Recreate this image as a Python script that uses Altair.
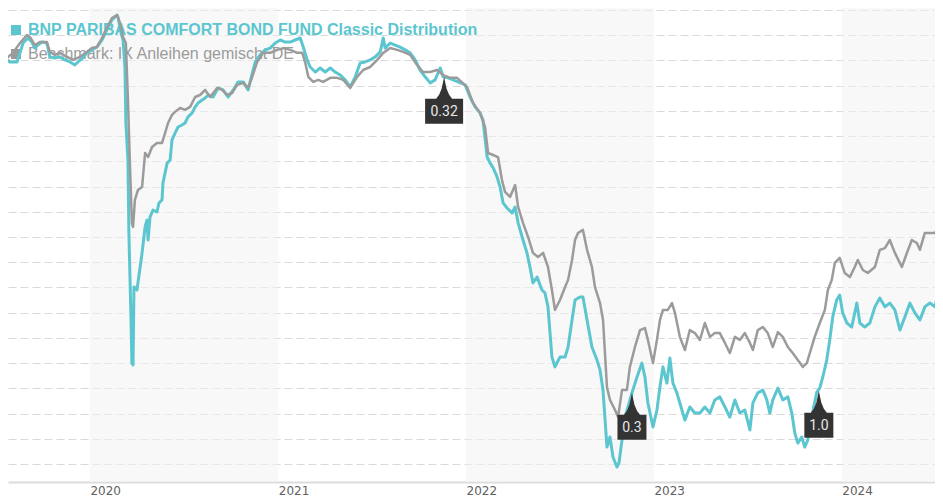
import altair as alt
import numpy as np
import pandas as pd

TEAL = "#5bc6cf"
GRAY = "#9b9b9b"

fund_name = "BNP PARIBAS COMFORT BOND FUND Classic Distribution"
bench_name = "Benchmark: IX Anleihen gemischt DE"

# decimal years / indexed values
fund_t = [2019.559, 2019.574, 2019.612, 2019.628, 2019.644, 2019.670, 2019.691, 2019.707, 2019.723, 2019.745,
          2019.771, 2019.787, 2019.814, 2019.840, 2019.867, 2019.894, 2019.920, 2019.936, 2019.963, 2019.984,
          2020.011, 2020.037, 2020.064, 2020.090, 2020.117, 2020.144, 2020.149, 2020.165, 2020.176, 2020.186,
          2020.191, 2020.202, 2020.207, 2020.218, 2020.223, 2020.229, 2020.234, 2020.250, 2020.255, 2020.277,
          2020.293, 2020.303, 2020.309, 2020.319, 2020.335, 2020.356, 2020.367, 2020.383, 2020.388, 2020.410,
          2020.426, 2020.436, 2020.452, 2020.468, 2020.489, 2020.505, 2020.521, 2020.543, 2020.559, 2020.574,
          2020.596, 2020.612, 2020.628, 2020.654, 2020.681, 2020.707, 2020.734, 2020.761, 2020.787,
          2020.814, 2020.840, 2020.862, 2020.878, 2020.904, 2020.931, 2020.957, 2020.984, 2021.011, 2021.037,
          2021.064, 2021.090, 2021.117, 2021.133, 2021.154, 2021.170, 2021.197, 2021.223, 2021.250, 2021.277,
          2021.303, 2021.330, 2021.356, 2021.383, 2021.410, 2021.436, 2021.463, 2021.489, 2021.516, 2021.543,
          2021.559, 2021.569, 2021.596, 2021.622, 2021.649, 2021.676, 2021.702, 2021.729, 2021.755, 2021.782,
          2021.809, 2021.835, 2021.862, 2021.878, 2021.904, 2021.931, 2021.957,
          2021.995, 2022.021, 2022.048, 2022.074, 2022.090, 2022.112, 2022.128, 2022.144, 2022.165, 2022.181,
          2022.197, 2022.218, 2022.245, 2022.261, 2022.277, 2022.303, 2022.324, 2022.340, 2022.356, 2022.378,
          2022.404, 2022.420, 2022.436, 2022.457, 2022.473, 2022.500, 2022.527, 2022.543, 2022.564, 2022.580,
          2022.606, 2022.622, 2022.644, 2022.670, 2022.697, 2022.713, 2022.729, 2022.750, 2022.766, 2022.782,
          2022.803, 2022.814, 2022.830, 2022.846, 2022.862, 2022.883, 2022.910, 2022.936, 2022.952, 2022.968,
          2022.995, 2023.016, 2023.032, 2023.048, 2023.069, 2023.085, 2023.101, 2023.122, 2023.138, 2023.165,
          2023.191, 2023.218,
          2023.245, 2023.271, 2023.298, 2023.324, 2023.351, 2023.378, 2023.404, 2023.431, 2023.457, 2023.484,
          2023.511, 2023.527, 2023.553, 2023.580, 2023.601, 2023.617, 2023.633, 2023.660, 2023.686, 2023.713,
          2023.734, 2023.750, 2023.766, 2023.787, 2023.803, 2023.819, 2023.840, 2023.867, 2023.883, 2023.899,
          2023.920, 2023.936, 2023.952, 2023.973, 2023.989, 2024.005, 2024.027, 2024.053, 2024.080, 2024.096,
          2024.122, 2024.149, 2024.176, 2024.202, 2024.229, 2024.255, 2024.282, 2024.309, 2024.335, 2024.362,
          2024.388, 2024.415, 2024.441, 2024.468, 2024.495, 2024.511, 2024.537]
fund_v = [104.02, 103.94, 103.94, 104.30, 104.69, 104.89, 104.73, 104.49, 104.61, 104.73,
          104.69, 104.14, 104.10, 104.14, 104.02, 103.94, 103.82, 103.94, 104.10, 104.30,
          104.42, 104.53, 104.81, 105.21, 105.61, 105.80, 105.72, 105.09, 104.81, 103.74,
          101.52, 100.05, 97.16, 93.83, 92.00, 91.93, 95.02, 94.90, 95.18, 96.37,
          97.40, 97.67, 96.88, 97.79, 98.07, 97.99, 98.35, 98.47, 99.14, 99.93,
          100.05, 100.85, 101.12, 101.36, 101.44, 101.52, 101.76, 101.92, 102.16, 102.31,
          102.43, 102.51, 102.63, 102.55, 102.91, 102.83, 102.55, 102.83, 103.15,
          103.15, 102.83, 103.50, 103.94, 104.22, 104.42, 104.49, 104.69, 104.81, 104.73,
          104.73, 104.81, 104.89, 104.53, 104.02, 103.74, 103.54, 103.70, 103.54, 103.70,
          103.54, 103.42, 103.23, 102.95, 103.35, 103.90, 103.94, 104.02, 104.14, 104.34,
          104.89, 104.49, 104.69, 104.61, 104.53, 104.42, 104.30, 104.02, 103.62, 103.35,
          103.11, 103.23, 103.70, 103.35, 103.31, 103.23, 103.15,
          103.03, 102.55, 102.16, 101.92, 101.64, 100.17, 99.93, 99.74, 99.38, 98.98,
          98.35, 98.15, 97.95, 98.19, 97.56, 96.88, 96.37, 95.81, 95.18, 95.41,
          94.90, 94.78, 94.23, 92.24, 91.85, 92.24, 92.24, 92.64, 93.71, 94.50,
          94.62, 94.62, 93.71, 92.64, 92.12, 91.73, 90.93, 88.67, 89.07, 88.28,
          87.88, 88.04, 88.95, 89.86, 90.26, 90.82, 91.45, 92.00, 91.45, 90.42,
          89.47, 90.14, 91.05, 91.85, 91.21, 92.20, 91.21, 90.82, 90.42, 89.74,
          90.26, 90.02,
          90.02, 90.26, 90.02, 90.54, 90.66, 90.26, 89.86, 90.54, 90.02, 90.14,
          89.35, 90.42, 90.82, 90.93, 90.54, 90.02, 90.54, 91.01, 90.54, 90.66,
          90.02, 89.23, 88.83, 89.07, 88.67, 88.95, 89.86, 90.85, 91.01, 91.45,
          92.12, 92.92, 93.83, 94.50, 94.70, 93.99, 93.59, 93.43, 94.38, 93.59,
          93.43, 93.59, 94.23, 94.58, 94.23, 94.38, 94.11, 93.31, 93.83, 94.38,
          93.99, 93.71, 94.23, 94.38, 94.23, 94.78, 95.18]

bench_t = [2019.559, 2019.590, 2019.628, 2019.665, 2019.681, 2019.707, 2019.734, 2019.771, 2019.787, 2019.814,
           2019.840, 2019.878, 2019.910, 2019.947, 2019.984, 2020.011, 2020.037, 2020.064, 2020.090, 2020.117,
           2020.144, 2020.160, 2020.176, 2020.191, 2020.202, 2020.213, 2020.223, 2020.229, 2020.239, 2020.255,
           2020.277, 2020.293, 2020.309, 2020.330, 2020.356, 2020.383, 2020.399, 2020.415, 2020.436, 2020.452,
           2020.479, 2020.505, 2020.532, 2020.559, 2020.585, 2020.612, 2020.638, 2020.676, 2020.702, 2020.729,
           2020.755, 2020.782,
           2020.814, 2020.840, 2020.862, 2020.888, 2020.920, 2020.957, 2020.995, 2021.027, 2021.064, 2021.101,
           2021.128, 2021.144, 2021.160, 2021.186, 2021.213, 2021.239, 2021.277, 2021.314, 2021.346, 2021.383,
           2021.420, 2021.452, 2021.489, 2021.527, 2021.559, 2021.596, 2021.633, 2021.665, 2021.702, 2021.739,
           2021.771, 2021.809, 2021.846, 2021.878, 2021.915, 2021.952,
           2022.005, 2022.037, 2022.074, 2022.101, 2022.117, 2022.144, 2022.170, 2022.191, 2022.207, 2022.234,
           2022.261, 2022.277, 2022.303, 2022.330, 2022.356, 2022.383, 2022.410, 2022.436, 2022.457, 2022.473,
           2022.500, 2022.527, 2022.543, 2022.564, 2022.580, 2022.596, 2022.622, 2022.644, 2022.670, 2022.686,
           2022.713, 2022.729, 2022.750, 2022.766, 2022.793, 2022.809, 2022.830, 2022.856, 2022.872, 2022.899,
           2022.926, 2022.952, 2022.968, 2022.995, 2023.016, 2023.032, 2023.048, 2023.074, 2023.096, 2023.112,
           2023.138, 2023.165, 2023.191, 2023.218,
           2023.245, 2023.271, 2023.298, 2023.324, 2023.351, 2023.378, 2023.404, 2023.431, 2023.457, 2023.484,
           2023.511, 2023.527, 2023.553, 2023.580, 2023.606, 2023.633, 2023.660, 2023.686, 2023.713, 2023.739,
           2023.766, 2023.793, 2023.814, 2023.830, 2023.856, 2023.883, 2023.910, 2023.926, 2023.947, 2023.963,
           2023.989, 2024.016, 2024.043, 2024.069, 2024.085, 2024.112, 2024.138, 2024.176, 2024.202, 2024.229,
           2024.255, 2024.282, 2024.319, 2024.346, 2024.372, 2024.399, 2024.415, 2024.441, 2024.468, 2024.495,
           2024.511, 2024.537]
bench_v = [104.10, 104.30, 104.69, 105.01, 104.93, 104.61, 104.73, 104.73, 104.34, 104.22,
           104.30, 104.14, 104.02, 104.14, 104.34, 104.49, 104.53, 104.89, 105.29, 105.68,
           105.80, 105.49, 104.93, 104.69, 102.43, 99.78, 97.56, 97.40, 98.47, 98.86,
           98.98, 100.33, 100.17, 100.57, 100.73, 100.73, 101.12, 101.52, 101.84, 101.96,
           102.12, 102.04, 102.16, 102.55, 102.63, 102.83, 102.55, 102.91, 102.83, 102.63,
           102.71, 103.03,
           103.11, 102.91, 103.35, 103.94, 104.30, 104.30, 104.42, 104.49, 104.42, 104.30,
           104.30, 103.90, 103.35, 103.15, 103.23, 103.15, 103.31, 103.31, 103.23, 102.91,
           103.35, 103.62, 103.74, 104.02, 104.30, 104.49, 104.42, 104.34, 104.22, 103.82,
           103.54, 103.54, 103.62, 103.42, 103.31, 103.31,
           102.95, 102.31, 101.92, 101.36, 100.33, 100.25, 100.17, 99.26, 98.79, 98.59,
           99.06, 98.19, 97.56, 97.00, 96.37, 96.21, 96.37, 95.81, 94.90, 94.11,
           94.50, 95.02, 95.30, 96.09, 96.88, 97.16, 97.28, 96.49, 95.81, 95.02,
           94.38, 93.71, 91.05, 90.54, 90.14, 89.86, 90.93, 90.93, 91.85, 92.64,
           93.31, 93.39, 92.92, 92.00, 92.92, 93.71, 94.11, 94.11, 94.38, 93.99,
           93.04, 92.52, 93.31, 93.19,
           92.92, 93.59, 93.04, 93.19, 93.19, 92.80, 92.40, 93.04, 92.92, 93.19,
           92.80, 92.52, 93.31, 93.43, 93.19, 92.64, 93.23, 93.04, 92.64, 92.40,
           92.12, 91.85, 92.00, 92.40, 93.04, 93.59, 94.11, 94.90, 95.30, 95.97,
           96.17, 95.57, 95.41, 95.81, 96.09, 95.69, 95.57, 95.81, 96.49, 96.56,
           96.88, 96.37, 95.81, 96.37, 96.88, 96.76, 96.49, 97.16, 97.16, 97.16,
           97.40, 97.95]

div_t = [2021.883, 2022.883, 2023.878]
div_v = [103.35, 90.82, 90.90]
div_labels = ["0.32", "0.3", "1.0"]

tick_years = [2020, 2021, 2022, 2023, 2024]
band_start = [2020, 2022, 2024]
band_end = [2021, 2023, 2025]
x_range = [2019.564, 2024.495]
grid_values = list(range(88, 107))
y_range = [87.286, 106.079]


def to_ts(t):
    y = int(np.floor(t))
    a = pd.Timestamp(year=y, month=1, day=1)
    b = pd.Timestamp(year=y + 1, month=1, day=1)
    return a + (b - a) * (t - y)


def iso(t):
    return to_ts(t).strftime("%Y-%m-%dT%H:%M:%S")


def dt(t):
    s = to_ts(t)
    return alt.DateTime(year=int(s.year), month=int(s.month), date=int(s.day),
                        hours=int(s.hour), minutes=int(s.minute))


fund_df = pd.DataFrame({"date": [iso(t) for t in fund_t], "value": fund_v})
bench_df = pd.DataFrame({"date": [iso(t) for t in bench_t], "value": bench_v})
flag_df = pd.DataFrame({"date": [iso(t) for t in div_t], "value": div_v, "label": div_labels})
band_df = pd.DataFrame({"date": [iso(t) for t in band_start], "date_end": [iso(t) for t in band_end]})


def flag_path(n):
    h = (9 * n + 2) / 2
    return (f"M0,0 L1.2,6 L2.5,12 L5,18 L8,22 L{h},22 L{h},47 L{-h},47 L{-h},22 "
            f"L-8,22 L-5,18 L-2.5,12 L-1.2,6 Z")


flag_paths = [flag_path(len(l)) for l in div_labels]

X = alt.X(
    "date:T",
    scale=alt.Scale(domain=[dt(x_range[0]), dt(x_range[1])]),
    axis=alt.Axis(
        values=[alt.DateTime(year=y, month=1, date=1) for y in tick_years],
        format="%Y", labelAlign="left", labelFlush=False, ticks=False, grid=False,
        domainColor="#dcdcdc", domainWidth=2, labelColor="#606060", labelFontSize=12,
        labelFont="DejaVu Sans", labelPadding=3, title=None,
    ),
)
Y = alt.Y(
    "value:Q",
    scale=alt.Scale(domain=y_range, nice=False, zero=False),
    axis=alt.Axis(
        values=grid_values, labels=False, ticks=False, domain=False, grid=True,
        gridDash=[8, 4], gridColor="#d9d9d9", gridWidth=1, title=None,
        minExtent=0, maxExtent=0,
    ),
)

bands = alt.Chart(band_df).mark_rect(color="#f2f2f2", opacity=0.55, clip=True).encode(
    x=X, x2="date_end:T"
)

leg_df1 = pd.DataFrame({"label": [fund_name]})
leg_df2 = pd.DataFrame({"label": [bench_name]})
leg_sq1 = alt.Chart(leg_df1).mark_square(size=100, color=TEAL, opacity=1).encode(
    x=alt.value(8), y=alt.value(22))
leg_tx1 = alt.Chart(leg_df1).mark_text(
    align="left", baseline="alphabetic", fontSize=16, fontWeight="bold",
    font="Liberation Sans", color=TEAL).encode(x=alt.value(20), y=alt.value(27), text="label:N")
leg_sq2 = alt.Chart(leg_df2).mark_square(size=100, color=GRAY, opacity=1).encode(
    x=alt.value(8), y=alt.value(46))
leg_tx2 = alt.Chart(leg_df2).mark_text(
    align="left", baseline="alphabetic", fontSize=16, font="Liberation Sans",
    color=GRAY).encode(x=alt.value(20), y=alt.value(51), text="label:N")

fund_line = alt.Chart(fund_df).mark_line(color=TEAL, strokeWidth=3, strokeJoin="round", clip=True).encode(x=X, y=Y)
bench_line = alt.Chart(bench_df).mark_line(color=GRAY, strokeWidth=2.5, strokeJoin="round", clip=True).encode(x=X, y=Y)

flags = alt.Chart(flag_df).mark_point(filled=True, size=4, opacity=1, color="#333333", strokeWidth=0).encode(
    x=X, y=Y,
    shape=alt.Shape("label:N", scale=alt.Scale(domain=div_labels, range=flag_paths), legend=None),
)
flag_text = alt.Chart(flag_df).mark_text(
    dy=35, color="#e8e8e8", fontSize=14, font="Roboto", baseline="middle", align="center"
).encode(x=X, y=Y, text="label:N")

chart = alt.layer(
    bands, leg_sq1, leg_tx1, leg_sq2, leg_tx2, fund_line, bench_line, flags, flag_text
).properties(width=927, height=474, padding=0).configure_view(strokeWidth=0)

chart.save("out.html", embed_options={"renderer": "svg", "actions": False})
